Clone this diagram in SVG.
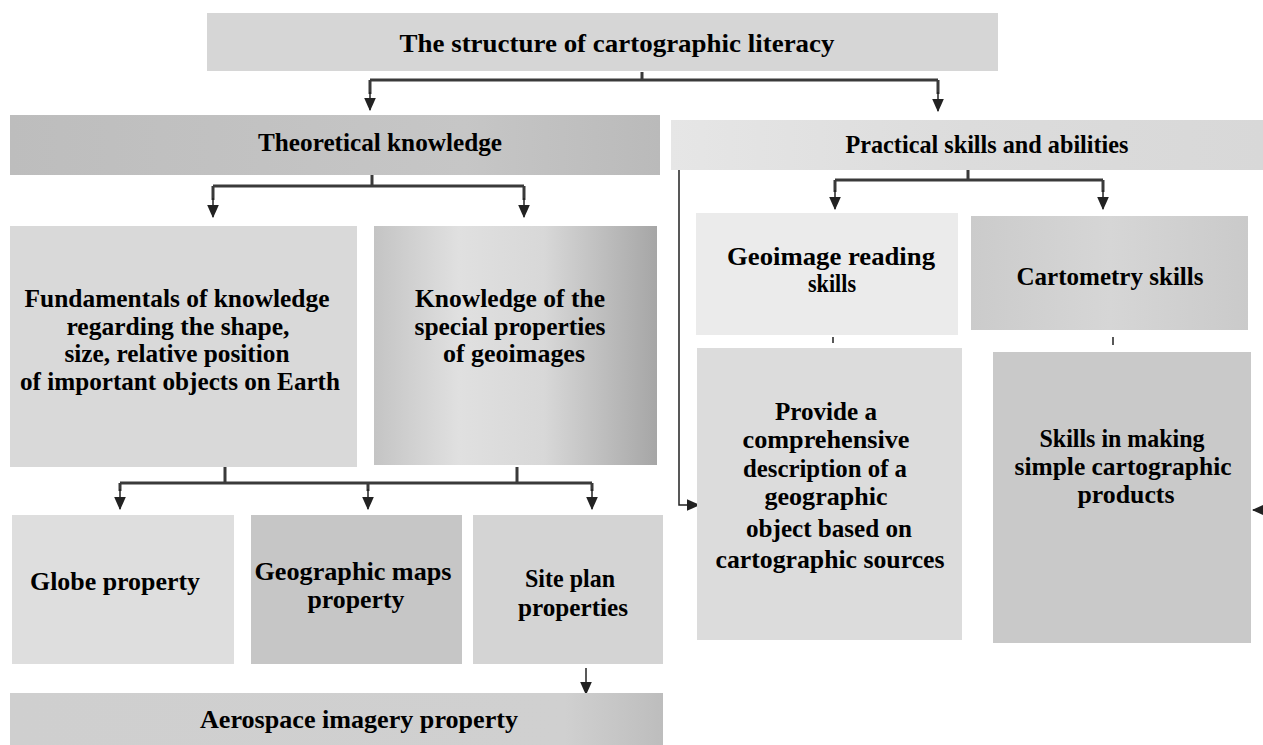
<svg xmlns="http://www.w3.org/2000/svg" width="1263" height="745" viewBox="0 0 1263 745">
<style>
text{font-family:"Liberation Serif","DejaVu Serif",serif;font-size:26px;font-weight:bold;fill:#000;text-anchor:middle}
.c{fill:none;stroke:#3a3a3a;stroke-width:3}
.t{fill:none;stroke:#222;stroke-width:1.5}
</style>
<defs>
<marker id="ah2" viewBox="0 0 12 10" refX="11" refY="5" markerWidth="9" markerHeight="8" orient="auto" markerUnits="strokeWidth" preserveAspectRatio="none"><path d="M0,0L12,5L0,10z" fill="#222"/></marker>
<linearGradient id="gTheo" x1="0" x2="1"><stop offset="0" stop-color="#bdbdbd"/><stop offset="0.7" stop-color="#c6c6c6"/><stop offset="1" stop-color="#bababa"/></linearGradient>
<linearGradient id="gPrac" x1="0" x2="1"><stop offset="0" stop-color="#e6e6e6"/><stop offset="0.5" stop-color="#dcdcdc"/><stop offset="1" stop-color="#d8d8d8"/></linearGradient>
<linearGradient id="gKnow" x1="0" x2="1"><stop offset="0" stop-color="#c4c4c4"/><stop offset="0.3" stop-color="#e0e0e0"/><stop offset="0.6" stop-color="#d8d8d8"/><stop offset="1" stop-color="#a6a6a6"/></linearGradient>
<linearGradient id="gAero" x1="0" x2="1"><stop offset="0" stop-color="#cfcfcf"/><stop offset="0.85" stop-color="#d0d0d0"/><stop offset="1" stop-color="#bdbdbd"/></linearGradient>
<linearGradient id="gCarto" x1="0" x2="1"><stop offset="0" stop-color="#cbcbcb"/><stop offset="0.5" stop-color="#d6d6d6"/><stop offset="1" stop-color="#cacaca"/></linearGradient>
</defs>

<g id="connectors">
<path class="c" d="M642,72V80M370,80H938M370,80V94M938,80V94"/>
<path class="t" d="M370,92V110" marker-end="url(#ah2)"/>
<path class="t" d="M938,92V111" marker-end="url(#ah2)"/>
<path class="c" d="M372,175V186M213,186H524M213,186V200M524,186V200"/>
<path class="t" d="M213,198V217" marker-end="url(#ah2)"/>
<path class="t" d="M524,198V217" marker-end="url(#ah2)"/>
<path class="c" d="M968,170V180M835,180H1103M835,180V192M1103,180V192"/>
<path class="t" d="M835,190V209" marker-end="url(#ah2)"/>
<path class="t" d="M1103,190V209" marker-end="url(#ah2)"/>
<path class="t" d="M679,170V505H699" marker-end="url(#ah2)"/>
<path class="c" d="M225,467V483M517,467V483M120,483H592M120,483V491M368,483V491M592,483V491"/>
<path class="t" d="M120,489V509" marker-end="url(#ah2)"/>
<path class="t" d="M368,489V509" marker-end="url(#ah2)"/>
<path class="t" d="M592,489V509" marker-end="url(#ah2)"/>
<path class="t" d="M586,668V694" marker-end="url(#ah2)"/>
<path class="t" d="M833,337V343M1113,337V345"/>
<path class="t" d="M1263,510H1253" marker-end="url(#ah2)"/>
</g>

<g id="title"><rect x="207" y="13" width="791" height="58" fill="#d6d6d6"/><text x="617" y="52" textLength="435" lengthAdjust="spacingAndGlyphs">The structure of cartographic literacy</text></g>
<g id="theoretical"><rect x="10" y="115" width="650" height="60" fill="url(#gTheo)"/><text x="380" y="151" textLength="244" lengthAdjust="spacingAndGlyphs">Theoretical knowledge</text></g>
<g id="practical"><rect x="671" y="120" width="592" height="50" fill="url(#gPrac)"/><text x="987" y="153" textLength="283" lengthAdjust="spacingAndGlyphs">Practical skills and abilities</text></g>

<g id="fundamentals"><rect x="10" y="226" width="347" height="241" fill="#d9d9d9"/>
<text x="177" y="307" textLength="305" lengthAdjust="spacingAndGlyphs">Fundamentals of knowledge</text>
<text x="178" y="335" textLength="223" lengthAdjust="spacingAndGlyphs">regarding the shape,</text>
<text x="177" y="362" textLength="225" lengthAdjust="spacingAndGlyphs">size, relative position</text>
<text x="180" y="390" textLength="320" lengthAdjust="spacingAndGlyphs">of important objects on Earth</text></g>

<g id="special"><rect x="374" y="226" width="283" height="239" fill="url(#gKnow)"/>
<text x="510" y="307" textLength="190" lengthAdjust="spacingAndGlyphs">Knowledge of the</text>
<text x="510" y="335" textLength="191" lengthAdjust="spacingAndGlyphs">special properties</text>
<text x="514" y="362" textLength="142" lengthAdjust="spacingAndGlyphs">of geoimages</text></g>

<g id="globe"><rect x="12" y="515" width="222" height="149" fill="#dedede"/><text x="115" y="590" textLength="170" lengthAdjust="spacingAndGlyphs">Globe property</text></g>
<g id="maps"><rect x="251" y="515" width="211" height="149" fill="#c6c6c6"/>
<text x="353" y="580" textLength="197" lengthAdjust="spacingAndGlyphs">Geographic maps</text><text x="356" y="608" textLength="97" lengthAdjust="spacingAndGlyphs">property</text></g>
<g id="siteplan"><rect x="473" y="515" width="190" height="149" fill="#d4d4d4"/>
<text x="570" y="587" textLength="90" lengthAdjust="spacingAndGlyphs">Site plan</text><text x="573" y="616" textLength="110" lengthAdjust="spacingAndGlyphs">properties</text></g>
<g id="aerospace"><rect x="10" y="693" width="653" height="52" fill="url(#gAero)"/><text x="359" y="728" textLength="318" lengthAdjust="spacingAndGlyphs">Aerospace imagery property</text></g>

<g id="geoimage"><rect x="696" y="213" width="262" height="122" fill="#ebebeb"/>
<text x="831" y="265" textLength="208" lengthAdjust="spacingAndGlyphs">Geoimage reading</text><text x="832" y="292" textLength="48" lengthAdjust="spacingAndGlyphs">skills</text></g>
<g id="cartometry"><rect x="971" y="216" width="277" height="114" fill="url(#gCarto)"/><text x="1110" y="285" textLength="187" lengthAdjust="spacingAndGlyphs">Cartometry skills</text></g>

<g id="provide"><rect x="697" y="348" width="265" height="292" fill="#dcdcdc"/>
<text x="826" y="420" textLength="102" lengthAdjust="spacingAndGlyphs">Provide a</text>
<text x="826" y="448" textLength="167" lengthAdjust="spacingAndGlyphs">comprehensive</text>
<text x="825" y="477" textLength="164" lengthAdjust="spacingAndGlyphs">description of a</text>
<text x="826" y="505" textLength="123" lengthAdjust="spacingAndGlyphs">geographic</text>
<text x="829" y="537" textLength="166" lengthAdjust="spacingAndGlyphs">object based on</text>
<text x="830" y="568" textLength="229" lengthAdjust="spacingAndGlyphs">cartographic sources</text></g>

<g id="making"><rect x="993" y="352" width="258" height="291" fill="#c9c9c9"/>
<text x="1122" y="447" textLength="165" lengthAdjust="spacingAndGlyphs">Skills in making</text>
<text x="1123" y="475" textLength="217" lengthAdjust="spacingAndGlyphs">simple cartographic</text>
<text x="1126" y="503" textLength="97" lengthAdjust="spacingAndGlyphs">products</text></g>
</svg>
